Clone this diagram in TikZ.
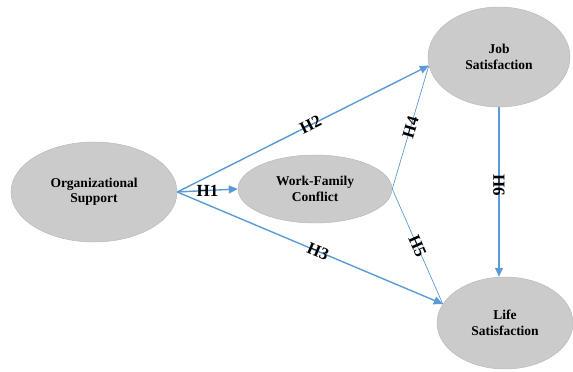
\documentclass[tikz,border=0pt]{standalone}
\usepackage{fontspec}
\setmainfont{Liberation Serif}
\usetikzlibrary{shapes.geometric,arrows.meta}
\definecolor{ellfill}{RGB}{203,203,203}
\definecolor{elldraw}{RGB}{186,186,186}
\definecolor{arrowblue}{RGB}{91,155,213}
\tikzset{
  construct/.style={ellipse, fill=ellfill, draw=elldraw, line width=0.5pt, inner sep=0pt,
    align=center, font=\bfseries\fontsize{13.5}{15.5}\selectfont},
  path/.style={draw=arrowblue, line width=1.4pt, -{Triangle[length=9pt,width=8pt]}},
  thinpath/.style={draw=arrowblue, line width=0.7pt},
  hyp/.style={font=\bfseries\fontsize{17}{17}\selectfont, inner sep=0pt}
}
\begin{document}
\begin{tikzpicture}[x=1pt,y=-1pt]
\useasboundingbox (0,0) rectangle (573,372);
\node[construct, minimum width=166pt, minimum height=100pt] (org) at (94,192) {Organizational\\Support};
\node[construct, minimum width=154pt, minimum height=68pt] (wfc) at (315,189) {Work-Family\\Conflict};
\node[construct, minimum width=142pt, minimum height=100pt] (job) at (499,57) {Job\\Satisfaction};
\node[construct, minimum width=136pt, minimum height=92pt] (life) at (505,323) {Life\\Satisfaction};
\coordinate (jin) at (job.187);
\coordinate (lin) at (life.163);
% thin paths
\draw[thinpath] (wfc.east) -- node[hyp, sloped] {H4} (jin);
\draw[thinpath] (wfc.east) -- node[hyp, sloped] {H5} (lin);
% main paths
\draw[path] (org.east) -- node[hyp] {H1} (wfc.west);
\draw[path] (org.east) -- node[hyp, sloped, pos=0.53] {H2} (jin);
\draw[path] (org.east) -- node[hyp, sloped, pos=0.53] {H3} (lin);
\draw[path] (job.south) -- node[hyp, rotate=-90, pos=0.46] {H6} (job.south |- life.north);
\end{tikzpicture}
\end{document}
